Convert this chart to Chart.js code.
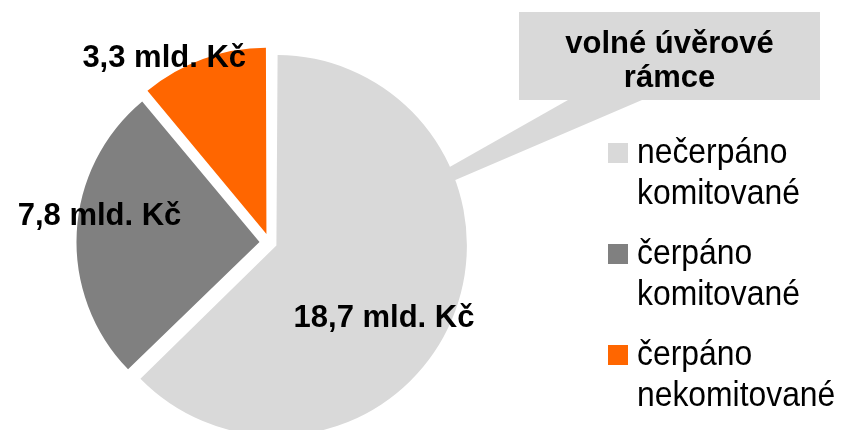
<!DOCTYPE html>
<html>
<head>
<meta charset="utf-8">
<script src="https://cdn.jsdelivr.net/npm/chart.js"></script>
<style>
  html, body { margin: 0; padding: 0; background: #fff; overflow: hidden; }
</style>
</head>
<body>
<canvas id="myChart" width="843" height="430"></canvas>
<script>
// data
const categories = [['nečerpáno', 'komitované'], ['čerpáno', 'komitované'], ['čerpáno', 'nekomitované']];
const values = [18.7, 7.8, 3.3];
const unit = ' mld. Kč';
const calloutText = ['volné úvěrové', 'rámce'];

const colors = ['#d9d9d9', '#808080', '#ff6600'];

// label placement relative to each slice: shift of angle (deg), fraction of radius
const labelPlace = [[10.5, 0.75], [5.8, 0.94], [-9.8, 1.16]];

function fmt(v) {
  return v.toFixed(1).replace('.', ',') + unit;
}

const extras = {
  id: 'extras',
  beforeDatasetsDraw(chart) {
    const ctx = chart.ctx;
    const c = chart.getDatasetMeta(0).data[0];
    ctx.save();
    // bublina s popiskem
    ctx.fillStyle = colors[0];
    ctx.fillRect(519, 12, 301, 88);
    ctx.beginPath();
    ctx.moveTo(568, 100);
    ctx.lineTo(642, 100);
    ctx.lineTo(c.x + 68, c.y - 12);
    ctx.closePath();
    ctx.fill();
    ctx.fillStyle = '#000';
    ctx.font = 'bold 31px "Liberation Sans", Arial, sans-serif';
    ctx.textAlign = 'center';
    ctx.textBaseline = 'alphabetic';
    calloutText.forEach((t, i) => ctx.fillText(t, 669.5, 53 + i * 34));
    ctx.restore();
  },
  afterDatasetsDraw(chart) {
    const ctx = chart.ctx;
    const arcs = chart.getDatasetMeta(0).data;
    ctx.save();
    ctx.fillStyle = '#000';
    ctx.font = 'bold 31px "Liberation Sans", Arial, sans-serif';
    ctx.textAlign = 'center';
    ctx.textBaseline = 'middle';
    arcs.forEach((a, i) => {
      const mid = (a.startAngle + a.endAngle) / 2 + labelPlace[i][0] * Math.PI / 180;
      const r = a.outerRadius * labelPlace[i][1];
      ctx.fillText(fmt(values[i]), a.x + Math.cos(mid) * r, a.y + Math.sin(mid) * r);
    });
    ctx.restore();
  },
  afterDraw(chart) {
    // legenda vpravo
    const ctx = chart.ctx;
    ctx.save();
    ctx.font = '35px "Liberation Sans", Arial, sans-serif';
    ctx.textAlign = 'left';
    ctx.textBaseline = 'alphabetic';
    categories.forEach((lines, i) => {
      const y = 163 + i * 101;
      ctx.fillStyle = colors[i];
      ctx.fillRect(608, y - 20, 20, 20);
      ctx.fillStyle = '#000';
      lines.forEach((t, j) => {
        ctx.save();
        ctx.translate(637, y + j * 41);
        ctx.scale(0.91, 1);
        ctx.fillText(t, 0, 0);
        ctx.restore();
      });
    });
    ctx.restore();
  }
};

const data = {
  labels: categories,
  datasets: [{
    data: values,
    backgroundColor: colors,
    borderWidth: 0,
    offset: [30, 40, 36],
    radius: 183,
    clip: false
  }]
};

const config = {
  type: 'pie',
  data: data,
  options: {
    responsive: false,
    animation: false,
    events: [],
    layout: {
      padding: { top: 55, left: 0, right: 304, bottom: 0 }
    },
    plugins: {
      legend: { display: false },
      tooltip: { enabled: false }
    }
  },
  plugins: [extras]
};

const myChart = new Chart(document.getElementById('myChart'), config);
</script>
</body>
</html>
